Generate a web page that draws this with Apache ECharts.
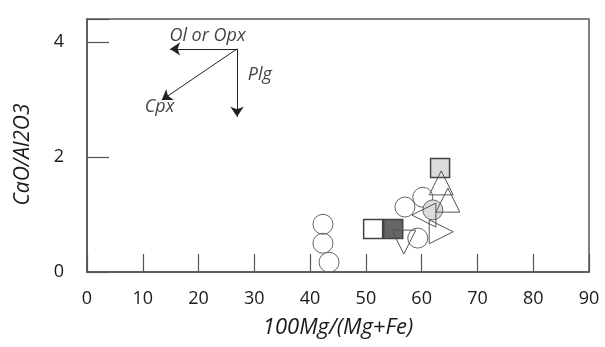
<!DOCTYPE html>
<html>
<head>
<meta charset="utf-8">
<script src="https://cdn.jsdelivr.net/npm/echarts@6/dist/echarts.min.js"></script>
<style>html,body{margin:0;padding:0;background:#fff}#c{width:605px;height:347px}</style>
</head>
<body>
<div id="c"></div>
<script>
// ---- data ----
var xTicks = [0, 10, 20, 30, 40, 50, 60, 70, 80, 90];
var yTicks = [0, 2, 4];
var openCircles = [[42.3, 0.83], [42.3, 0.50], [43.4, 0.17], [57.0, 1.13], [60.2, 1.30], [59.3, 0.59]];
var grayCircles = [[62.0, 1.08]];
var openSquares = [[51.3, 0.75]];
var darkSquares = [[54.9, 0.75]];
var graySquares = [[63.3, 1.81]];
var upTriangles = [[63.5, 1.55], [64.7, 1.25]];
var leftTriangles = [[60.4, 0.99]];
var rightTriangles = [[63.5, 0.70]];
var downTriangles = [[56.8, 0.52]];
var vectorOrigin = [26.9, 3.88];
var vectorTips = [[14.9, 3.88], [13.4, 2.99], [26.9, 2.70]];
var vectorLabels = [["Ol or Opx", 21.6, 4.10], ["Cpx", 13.0, 2.88], ["Plg", 31.0, 3.43]];

var font = '"Open Sans", "Noto Sans", sans-serif';
var chart = echarts.init(document.getElementById('c'));

function sc(name, data, symbol, fill, rot, size, bw, bc) {
  return {
    type: 'scatter', name: name, data: data, symbol: symbol,
    symbolSize: size, symbolRotate: rot || 0,
    itemStyle: {color: fill, borderColor: bc || '#555', borderWidth: bw || 1, opacity: 1},
    z: 3
  };
}

chart.setOption({
  animation: false,
  backgroundColor: '#fff',
  grid: {left: 87, right: 16, top: 19, bottom: 75, show: true, borderColor: '#555', borderWidth: 1.5},
  xAxis: {
    type: 'value', min: xTicks[0], max: xTicks[xTicks.length - 1], interval: 10,
    name: '100Mg/(Mg+Fe)', nameLocation: 'middle', nameGap: 45,
    nameTextStyle: {fontFamily: font, fontStyle: 'italic', fontSize: 22, color: '#1a1a1a'},
    axisLine: {show: true, lineStyle: {color: '#555', width: 1.5}},
    axisTick: {show: true, inside: true, length: 18, lineStyle: {color: '#555', width: 1.2}},
    axisLabel: {fontFamily: font, fontSize: 18, color: '#1a1a1a', margin: 18},
    splitLine: {show: false}
  },
  yAxis: {
    type: 'value', min: yTicks[0], max: 4.4, interval: 2,
    name: 'CaO/Al2O3', nameLocation: 'middle', nameGap: 53, nameRotate: 90,
    nameTextStyle: {fontFamily: font, fontStyle: 'italic', fontSize: 21, color: '#1a1a1a',
      padding: [0, 18, 0, 0]},
    axisLine: {show: true, lineStyle: {color: '#555', width: 1.5}},
    axisTick: {show: true, inside: true, length: 22, lineStyle: {color: '#555', width: 1.2}},
    axisLabel: {fontFamily: font, fontSize: 18, color: '#1a1a1a', margin: 23,
      formatter: function (v) { return yTicks.indexOf(v) >= 0 ? String(v) : ''; }},
    splitLine: {show: false}
  },
  series: [
    {
      type: 'lines', coordinateSystem: 'cartesian2d',
      data: vectorTips.map(function (t) { return {coords: [vectorOrigin, t]}; }),
      symbol: ['none', 'arrow'], symbolSize: [0, 10],
      lineStyle: {color: '#222', width: 1, opacity: 1}, z: 4
    },
    {
      type: 'scatter', symbolSize: 1,
      data: vectorLabels.map(function (l) { return {value: [l[1], l[2]], name: l[0]}; }),
      itemStyle: {color: 'rgba(0,0,0,0)'},
      label: {show: true, position: 'inside', formatter: '{b}', fontFamily: font,
        fontStyle: 'italic', fontSize: 18, color: '#111'},
      z: 5
    },
    sc('openCircles', openCircles, 'circle', 'rgba(255,255,255,0)', 0, 20, 1, '#666'),
    sc('grayCircles', grayCircles, 'circle', '#dcdcdc', 0, 20, 1, '#666'),
    sc('openSquares', openSquares, 'rect', '#fff', 0, 19, 1.5, '#444'),
    sc('darkSquares', darkSquares, 'rect', '#666', 0, 19, 1.5, '#444'),
    sc('graySquares', graySquares, 'rect', '#dcdcdc', 0, 19, 1.5, '#444'),
    sc('upTriangles', upTriangles, 'triangle', 'rgba(255,255,255,0)', 0, 24),
    sc('leftTriangles', leftTriangles, 'triangle', 'rgba(255,255,255,0)', 90, 24),
    sc('rightTriangles', rightTriangles, 'triangle', 'rgba(255,255,255,0)', -90, 24),
    sc('downTriangles', downTriangles, 'triangle', 'rgba(255,255,255,0)', 180, 24)
  ]
});
</script>
</body>
</html>
